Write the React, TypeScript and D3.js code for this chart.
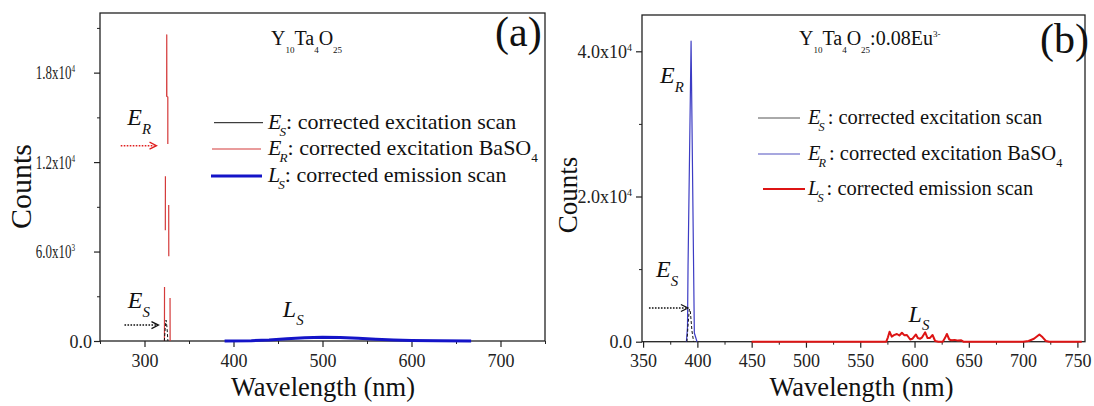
import React, { Component } from "react";
import * as d3 from "d3";

// (a) Y10Ta4O25
const aEsNm = [322.3, 323.3, 324.2, 325.3, 326.3];
const aEsCounts = [0, 900, 1400, 900, 0];
const aErNm = [322.4, 322.5, 323.0, 323.4, 323.5, 324.2, 324.9, 325.0, 325.1, 326.2, 326.2, 326.7, 327.2, 327.3, 328.0, 328.7, 328.8];
const aErCounts = [0, 3630, null, 7430, 11050, null, 16400, 20540, 16400, 16370, 13220, null, 9120, 5690, null, 2890, 0];
const aLsNm = [390, 420, 440, 460, 480, 500, 520, 540, 560, 580, 600, 630, 667];
const aLsCounts = [0, 20, 70, 150, 220, 250, 235, 180, 110, 60, 30, 10, 0];
const aXTicks = [300, 400, 500, 600, 700];
const aXMinor = [250, 350, 450, 550, 650, 750];
const aYTicks = [0, 6000, 12000, 18000];
const aYMinor = [3000, 9000, 15000, 21000];

// (b) Y10Ta4O25:0.08Eu
const bEsNm = [390.4, 391.5, 392.6, 393.5, 395, 396.5];
const bEsCounts = [0, 2500, 4500, 4200, 1500, 0];
const bErNm = [389.9, 390.9, 391.4, 394.2, 397.2, 399.7];
const bErCounts = [0, 2000, 10400, 41400, 1200, 0];
const bLsNm = [450, 574, 575.5, 577, 579, 581, 583.8, 586, 588.4, 590.5,
  593, 596, 598, 601.3, 603, 605, 607, 609.8, 612, 614,
  616.6, 619, 622, 626, 628, 629.8, 632, 634, 637, 640,
  643, 645, 700, 705, 710, 715, 718, 721, 724, 754];
const bLsCounts = [0, 0, 600, 1380, 700, 900, 1060, 850, 1240, 900,
  920, 300, 400, 1000, 500, 400, 600, 1290, 500, 500,
  920, 100, 0, 0, 500, 1060, 300, 200, 250, 150,
  200, 0, 0, 100, 400, 1000, 600, 100, 0, 0];
const bXTicks = [350, 400, 450, 500, 550, 600, 650, 700, 750];
const bXMinor = [375, 425, 475, 525, 575, 625, 675, 725];
const bYTicks = [0, 20000, 40000];
const bYMinor = [10000, 30000];

const legendNames = [": corrected excitation scan", ": corrected excitation BaSO", ": corrected emission scan"];

const serif = "Liberation Serif, DejaVu Serif, serif";

const zip = (xs, ys) => xs.map((v, i) => [v, ys[i]]);

function expParts(v) {
  if (v === 0) return ["0.0", ""];
  const e = Math.floor(Math.log10(v));
  return [(v / Math.pow(10, e)).toFixed(1) + "x10", String(e)];
}

function subLabel(g, x, y, main, sub, size) {
  const t = g.append("text").attr("x", x).attr("y", y)
    .style("font-family", serif).attr("font-size", size).attr("font-style", "italic").attr("fill", "#111");
  t.append("tspan").text(main);
  t.append("tspan").attr("font-size", size * 0.62).attr("dy", size * 0.36).text(sub);
}

function drawPanel(g, p) {
  const x = d3.scaleLinear().domain(p.xDomain).range([p.left, p.right]);
  const y = d3.scaleLinear().domain(p.yDomain).range([p.bottom, p.top]);

  // frame
  g.append("rect").attr("x", p.left).attr("y", p.top)
    .attr("width", p.right - p.left).attr("height", p.bottom - p.top)
    .attr("fill", "none").attr("stroke", "#222").attr("stroke-width", 1.3);

  // x axis
  g.append("g").attr("transform", `translate(0,${p.bottom})`).attr("color", "#222")
    .call(d3.axisBottom(x).tickValues(p.xMinor).tickSize(3).tickFormat(() => ""))
    .call(s => s.select(".domain").remove());
  const xa = g.append("g").attr("transform", `translate(0,${p.bottom})`).attr("color", "#222")
    .call(d3.axisBottom(x).tickValues(p.xTicks).tickSize(6).tickPadding(7).tickFormat(d3.format("d")));
  xa.select(".domain").remove();
  xa.selectAll("line").attr("stroke-width", 1.2);
  xa.selectAll("text").style("font-family", serif).attr("font-size", 18).attr("fill", "#222");

  // y axis
  g.append("g").attr("transform", `translate(${p.left},0)`).attr("color", "#222")
    .call(d3.axisLeft(y).tickValues(p.yMinor).tickSize(3).tickFormat(() => ""))
    .call(s => s.select(".domain").remove());
  const ya = g.append("g").attr("transform", `translate(${p.left},0)`).attr("color", "#222")
    .call(d3.axisLeft(y).tickValues(p.yTicks).tickSize(6).tickFormat(() => ""));
  ya.select(".domain").remove();
  ya.selectAll("line").attr("stroke-width", 1.2);

  p.yTicks.forEach(v => {
    const [m, e] = expParts(v);
    const sq = e ? p.tickSquash : 1;
    const t = g.append("text")
      .attr("transform", `translate(${v === 0 ? p.zeroLabelX : p.expLabelX},${y(v) + 6.5}) scale(${sq},1)`)
      .attr("text-anchor", "end").style("font-family", serif).attr("font-size", 18).attr("fill", "#222");
    t.append("tspan").text(m);
    if (e) t.append("tspan").attr("font-size", 10).attr("dy", -7).text(e);
  });

  // series
  const line = d3.line().defined(d => d[1] != null).x(d => x(d[0])).y(d => y(d[1]));
  p.series.forEach(s => {
    g.append("path").datum(s.data).attr("d", line).attr("fill", "none")
      .attr("stroke", s.color).attr("stroke-width", s.width)
      .attr("stroke-dasharray", s.dash || null).attr("stroke-linejoin", "round");
  });

  // arrows
  p.arrows.forEach(a => {
    const x1 = x(a.from), x2 = x(a.to), yy = y(a.at);
    g.append("line").attr("x1", x1).attr("x2", x2 - 2).attr("y1", yy).attr("y2", yy)
      .attr("stroke", a.color).attr("stroke-width", 1.4).attr("stroke-dasharray", "1.6,1.4");
    g.append("path").attr("d", `M${x2 - 7},${yy - 3.5}L${x2},${yy}L${x2 - 7},${yy + 3.5}`)
      .attr("fill", "none").attr("stroke", a.color).attr("stroke-width", 1.3);
  });

  // annotations
  p.notes.forEach(n => subLabel(g, x(n.nm), y(n.counts), n.main, n.sub, n.size));

  // legend
  p.legend.forEach((e, i) => {
    const ly = p.legendY[i];
    g.append("line").attr("x1", e.x1).attr("x2", e.x2).attr("y1", ly).attr("y2", ly)
      .attr("stroke", e.color).attr("stroke-width", e.width);
    const t = g.append("text").attr("x", p.legendX).attr("y", ly + 6)
      .style("font-family", serif).attr("font-size", p.legendSize).attr("fill", "#111");
    t.append("tspan").attr("font-style", "italic").text(e.main);
    t.append("tspan").attr("font-style", "italic").attr("font-size", p.legendSize * 0.6)
      .attr("dy", 7).attr("dx", -2).text(e.sub);
    t.append("tspan").attr("dy", -7).attr("dx", p.subGap).text(legendNames[i]);
    if (i === 1) t.append("tspan").attr("font-size", p.legendSize * 0.6).attr("dy", 7).text("4");
  });

  // compound title
  const tt = g.append("text").attr("x", p.titleX).attr("y", 45)
    .style("font-family", serif).attr("font-size", 20).attr("fill", "#111");
  p.title.forEach(([txt, kind]) => {
    const ts = tt.append("tspan").text(txt);
    if (kind === "sub") ts.attr("font-size", 9).attr("dy", 8);
    else if (kind === "sup") ts.attr("font-size", 9).attr("dy", -8);
    else if (kind === "back") ts.attr("dy", -8);
  });

  g.append("text").attr("x", p.tagX).attr("y", p.tagY)
    .style("font-family", serif).attr("font-size", 42).attr("fill", "#111").text(p.tag);

  // axis titles
  g.append("text").attr("transform", `translate(${p.countsX},${p.countsY}) rotate(-90)`)
    .attr("text-anchor", "middle").style("font-family", serif).attr("font-size", p.countsSize)
    .attr("fill", "#111").text("Counts");
  g.append("text").attr("x", (p.left + p.right) / 2 - p.xLabelShift).attr("y", 396)
    .attr("text-anchor", "middle").style("font-family", serif).attr("font-size", 26.5)
    .attr("fill", "#111").text("Wavelength (nm)");
}

class App extends Component {
  constructor(props) {
    super(props);
    this.svgRef = React.createRef();
  }
  componentDidMount() {
    const svg = d3.select(this.svgRef.current);
    svg.selectAll("*").remove();

    drawPanel(svg.append("g"), {
      left: 100, right: 545, top: 13, bottom: 341,
      xDomain: [250, 750], yDomain: [0, 22000],
      xTicks: aXTicks, xMinor: aXMinor, yTicks: aYTicks, yMinor: aYMinor,
      zeroLabelX: 92, expLabelX: 75, tickSquash: 0.72,
      series: [
        { data: zip(aErNm, aErCounts), color: "#d43a3a", width: 1.2 },
        { data: zip(aEsNm, aEsCounts), color: "#111", width: 1, dash: "3,2" },
        { data: zip(aLsNm, aLsCounts), color: "#1414c8", width: 3 },
      ],
      arrows: [
        { from: 273.3, to: 313.5, at: 13100, color: "#e02020" },
        { from: 277.5, to: 315.7, at: 1070, color: "#111" },
      ],
      notes: [
        { nm: 280.6, counts: 14490, main: "E", sub: "R", size: 24 },
        { nm: 281.2, counts: 2210, main: "E", sub: "S", size: 24 },
        { nm: 455.4, counts: 1630, main: "L", sub: "S", size: 24 },
      ],
      legend: [
        { main: "E", sub: "S", color: "#111", width: 1, x1: 214, x2: 263 },
        { main: "E", sub: "R", color: "#d43a3a", width: 1.2, x1: 212, x2: 261 },
        { main: "L", sub: "S", color: "#1414c8", width: 3.2, x1: 211, x2: 262 },
      ],
      legendY: [122.7, 149, 176], legendX: 268, legendSize: 22, subGap: 0,
      title: [["Y"], ["10", "sub"], ["Ta", "back"], ["4", "sub"], ["O", "back"], ["25", "sub"]],
      titleX: 271,
      tag: "(a)", tagX: 495, tagY: 46,
      countsX: 31, countsY: 186.5, countsSize: 30, xLabelShift: -0.5,
    });

    drawPanel(svg.append("g"), {
      left: 642, right: 1085, top: 15, bottom: 341.7,
      xDomain: [349, 757], yDomain: [0, 45000],
      xTicks: bXTicks, xMinor: bXMinor, yTicks: bYTicks, yMinor: bYMinor,
      zeroLabelX: 632, expLabelX: 632, tickSquash: 1,
      series: [
        { data: zip(bErNm, bErCounts), color: "#3c3cc4", width: 1.2 },
        { data: zip(bEsNm, bEsCounts), color: "#111", width: 1, dash: "3,2" },
        { data: zip(bLsNm, bLsCounts), color: "#dd1414", width: 2 },
      ],
      arrows: [
        { from: 355.4, to: 391.3, at: 4640, color: "#111" },
      ],
      notes: [
        { nm: 365.6, counts: 35590, main: "E", sub: "R", size: 24 },
        { nm: 361.9, counts: 8860, main: "E", sub: "S", size: 24 },
        { nm: 594.5, counts: 2755, main: "L", sub: "S", size: 24 },
      ],
      legend: [
        { main: "E", sub: "S", color: "#555", width: 1, x1: 758, x2: 800 },
        { main: "E", sub: "R", color: "#5050c0", width: 1.2, x1: 758, x2: 800 },
        { main: "L", sub: "S", color: "#dd1414", width: 2, x1: 763, x2: 805 },
      ],
      legendY: [118, 154, 189], legendX: 808, legendSize: 20.5, subGap: 3,
      title: [["Y"], ["10", "sub"], ["Ta", "back"], ["4", "sub"], ["O", "back"], ["25", "sub"],
        [":0.08Eu", "back"], ["3-", "sup"]],
      titleX: 799,
      tag: "(b)", tagX: 1040, tagY: 53,
      countsX: 577, countsY: 195, countsSize: 27, xLabelShift: 2,
    });
  }
  render() {
    return (
      <svg ref={this.svgRef} width={1094} height={406}
        style={{ position: "absolute", left: 0, top: 0, background: "#fff" }} />
    );
  }
}

export default App;
